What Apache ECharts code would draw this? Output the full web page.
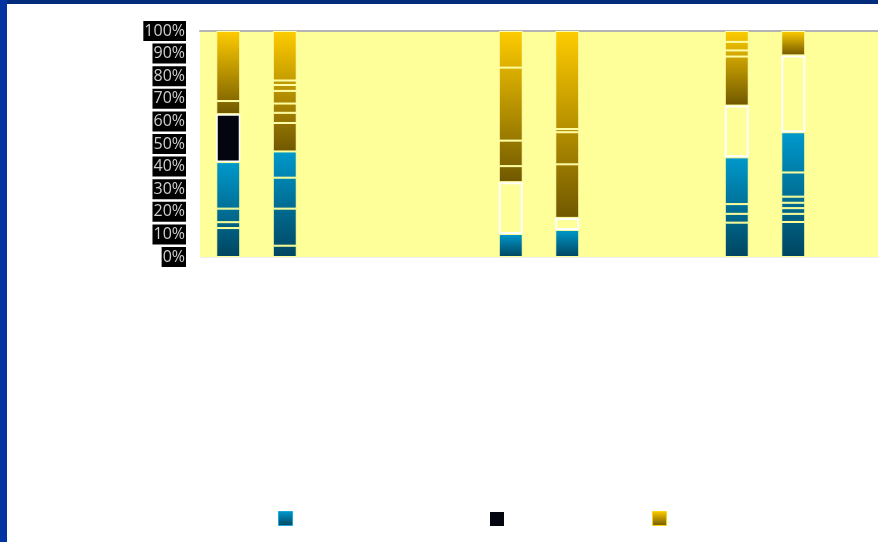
<!DOCTYPE html>
<html><head><meta charset="utf-8">
<script src="https://cdn.jsdelivr.net/npm/echarts@6/dist/echarts.min.js"></script>
<style>
html,body{margin:0;padding:0;background:#fff;overflow:hidden;}
#chart{position:absolute;left:0;top:0;width:878px;height:542px;}
#bt{position:absolute;left:0;top:0;width:878px;height:4px;background:#012B7B;}
#bl{position:absolute;left:0;top:0;width:7px;height:542px;background:#0034A0;}
</style></head><body>
<div id="chart"></div><div id="bt"></div><div id="bl"></div>
<script>
// ---- data (percent of each column, stacked bottom -> top) ----
const categories = ['1','2','3','4','5','6','7','8','9','10','11','12'];
const yTickLabels = ['0%','10%','20%','30%','40%','50%','60%','70%','80%','90%','100%'];
const blueSegments = [
  [12.8, 2.6, 6.0, 20.6],
  [5.0, 16.4, 13.7, 11.6],
  [], [], [],
  [10.2],
  [12.0],
  [], [],
  [15.2, 3.9, 4.3, 20.7],
  [15.5, 3.6, 2.5, 2.4, 2.7, 10.7, 17.8],
  []
];
const blackValues = [21.2, null, null, null, null, null, null, null, null, null, null, null];
const emptyValues = [null, null, null, null, null, 22.9, 5.3, null, null, 22.9, 34.0, null];
const goldSegments = [
  [5.8, 31.0],
  [12.6, 4.5, 4.1, 5.6, 2.6, 2.0, 21.9],
  [], [], [],
  [7.1, 11.3, 32.3, 16.2],
  [23.7, 14.2, 1.4, 43.4],
  [], [],
  [21.7, 2.7, 3.8, 4.8],
  [10.8],
  []
];
const legendNames = ['Series A', 'Series B', 'Series C'];

// ---- styling ----
const BLUE_TOP = [0, 153, 204], BLUE_BOT = [0, 69, 96];
const GOLD_TOP = [255, 204, 0], GOLD_BOT = [112, 88, 0];
const sum = a => a.reduce((x, y) => x + y, 0);
function mix(top, bot, t) {
  return 'rgb(' + top.map((x, i) => Math.round(bot[i] + (x - bot[i]) * t)).join(',') + ')';
}
function grad(c0, c1) {
  return new echarts.graphic.LinearGradient(0, 0, 0, 1, [{offset: 0, color: c0}, {offset: 1, color: c1}]);
}
function groupSeries(name, segs, base, top, bot, border) {
  const maxN = Math.max(...segs.map(s => s.length));
  const out = [];
  for (let k = 0; k < maxN; k++) {
    out.push({
      name: name, type: 'bar', stack: 'total', barWidth: 24, xAxisIndex: 0,
      emphasis: {disabled: true},
      itemStyle: {color: grad(mix(top, bot, 1), mix(top, bot, 0)), borderColor: border, borderWidth: 1},
      data: categories.map((c, i) => {
        const s = segs[i];
        if (k >= s.length) return '-';
        const g0 = base[i], g1 = g0 + sum(s);
        const lo = g0 + sum(s.slice(0, k)), hi = lo + s[k];
        return {value: s[k], itemStyle: {color: grad(mix(top, bot, (hi - g0) / (g1 - g0)), mix(top, bot, (lo - g0) / (g1 - g0)))}};
      })
    });
  }
  return out;
}
const zeros = categories.map(() => 0);
const goldBase = categories.map((c, i) => sum(blueSegments[i]) + (blackValues[i] || 0) + (emptyValues[i] || 0));

const series = [].concat(
  groupSeries(legendNames[0], blueSegments, zeros, BLUE_TOP, BLUE_BOT, '#FFFF99'),
  [{
    name: legendNames[1], type: 'bar', stack: 'total', barWidth: 24, emphasis: {disabled: true},
    itemStyle: {color: '#03060F', borderColor: '#FFFFFF', borderWidth: 1.5},
    data: blackValues.map(v => v == null ? '-' : v)
  }, {
    name: 'blank', type: 'bar', stack: 'total', barWidth: 24, emphasis: {disabled: true},
    itemStyle: {color: '#FFFF99', borderColor: '#FFFFFF', borderWidth: 2},
    data: emptyValues.map(v => v == null ? '-' : v)
  }],
  groupSeries(legendNames[2], goldSegments, goldBase, GOLD_TOP, GOLD_BOT, '#FFFFA8')
);

const legendLeft = [278, 490, 652];
const legendTop = [511, 512, 511];
const legendBorder = ['#1AA8D8', null, '#FFD21A'];
const chart = echarts.init(document.getElementById('chart'), null, {renderer: 'canvas'});
chart.setOption({
  animation: false,
  backgroundColor: '#FFFFFF',
  grid: {left: 200, right: 0, top: 31, bottom: 285, show: true, backgroundColor: '#FFFF99', borderWidth: 0},
  xAxis: [{
    type: 'category', data: categories,
    axisLine: {show: true, lineStyle: {color: '#EEEEEE', width: 1}},
    axisTick: {show: false}, axisLabel: {show: false}, splitLine: {show: false}
  }, {
    type: 'category', data: categories, position: 'top',
    axisLine: {show: true, lineStyle: {color: '#B4B4B4', width: 2}},
    axisTick: {show: false}, axisLabel: {show: false}, splitLine: {show: false}
  }],
  yAxis: {
    type: 'value', min: 0, max: 100, interval: 10,
    axisLine: {show: false}, axisTick: {show: false}, splitLine: {show: false},
    axisLabel: {
      formatter: v => yTickLabels[Math.round(v / 10)],
      color: '#CFCFCF', fontSize: 16, fontFamily: 'Open Sans',
      backgroundColor: '#000000', padding: [1, 1, 0, 1], lineHeight: 19, margin: 14
    }
  },
  legend: legendNames.map((n, i) => ({
    left: legendLeft[i], top: legendTop[i], itemWidth: 14, itemHeight: 14, icon: 'rect',
    data: [n], formatter: () => '', selectedMode: false, padding: 0,
    itemStyle: legendBorder[i] ? {borderColor: legendBorder[i], borderWidth: 1} : {borderWidth: 0}
  })),
  series: series
});
</script>
</body></html>
